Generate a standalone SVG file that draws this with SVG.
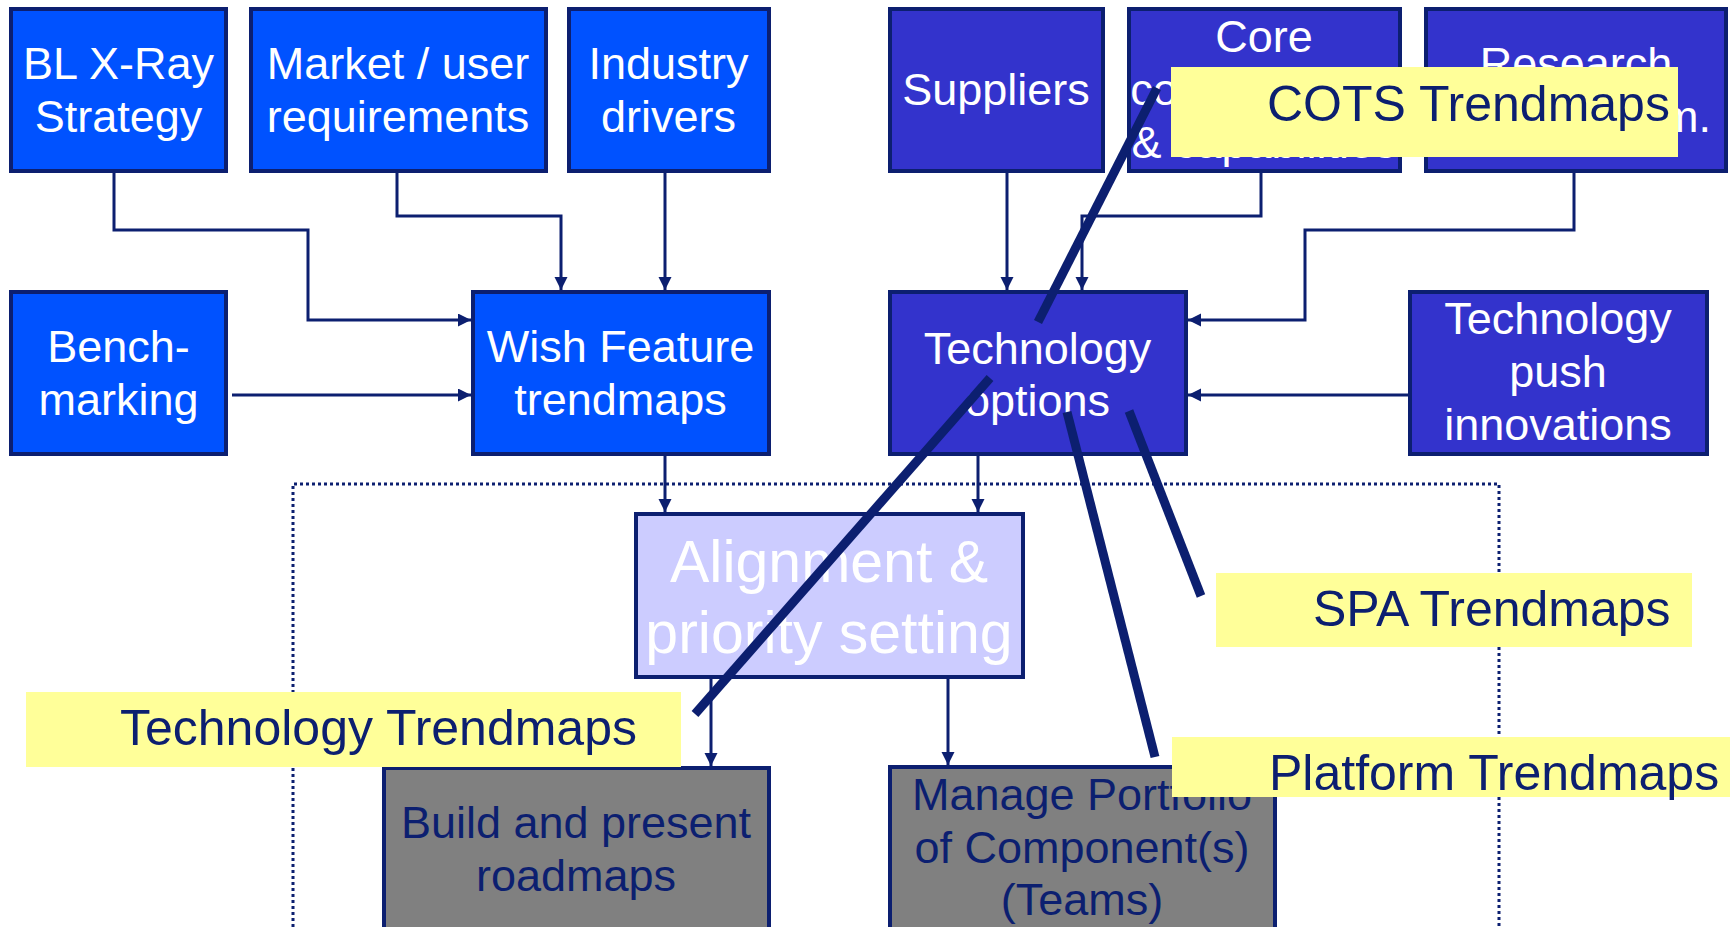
<svg xmlns="http://www.w3.org/2000/svg" width="1730" height="927" viewBox="0 0 1730 927">
<style>
.b1{fill:#0052ff;stroke:#0c1f70;stroke-width:4}
.b2{fill:#3333cc;stroke:#0c1f70;stroke-width:4}
.b3{fill:#ccccff;stroke:#0c1f70;stroke-width:4}
.b4{fill:#808080;stroke:#0c1f70;stroke-width:4}
.t{font-family:"Liberation Sans",Arial,sans-serif;font-size:45px;fill:#ffffff;text-anchor:middle}
.td{font-family:"Liberation Sans",Arial,sans-serif;font-size:45px;fill:#0c1f70;text-anchor:middle}
.ta{font-family:"Liberation Sans",Arial,sans-serif;font-size:59px;fill:#ffffff;text-anchor:middle}
.y{fill:#ffff99}
.yt{font-family:"Liberation Sans",Arial,sans-serif;font-size:50px;fill:#0c1f70}
.c{fill:none;stroke:#0c1f70;stroke-width:3;marker-end:url(#ah)}
.thick{stroke:#0c1f70;stroke-width:9;fill:none}
.dot{fill:none;stroke:#0c1f70;stroke-width:3;stroke-dasharray:3 3}
</style>
<defs>
<marker id="ah" markerUnits="userSpaceOnUse" markerWidth="14" markerHeight="14" refX="13" refY="6.5" orient="auto">
<path d="M0,0 L13,6.5 L0,13 z" fill="#0c1f70"/>
</marker>
</defs>
<rect width="1730" height="927" fill="#ffffff"/>
<path class="dot" d="M293 927 V484 H1499 V927"/>

<g id="bl-xray"><rect class="b1" x="11" y="9" width="215" height="162"/><text class="t" x="118.5" y="79">BL X-Ray</text><text class="t" x="118.5" y="132">Strategy</text></g>
<g id="market"><rect class="b1" x="251" y="9" width="295" height="162"/><text class="t" x="398" y="79">Market / user</text><text class="t" x="398" y="132">requirements</text></g>
<g id="industry"><rect class="b1" x="569" y="9" width="200" height="162"/><text class="t" x="668.5" y="79">Industry</text><text class="t" x="668.5" y="132">drivers</text></g>
<g id="bench"><rect class="b1" x="11" y="292" width="215" height="162"/><text class="t" x="118.5" y="362">Bench-</text><text class="t" x="118.5" y="415">marking</text></g>
<g id="wish"><rect class="b1" x="473" y="292" width="296" height="162"/><text class="t" x="620.5" y="362">Wish Feature</text><text class="t" x="620.5" y="415">trendmaps</text></g>

<g id="suppliers"><rect class="b2" x="890" y="9" width="213" height="162"/><text class="t" x="996" y="105">Suppliers</text></g>
<g id="core"><rect class="b2" x="1129" y="9" width="271" height="162"/><text class="t" x="1264" y="52">Core</text><text class="t" x="1264" y="105">competences</text><text class="t" x="1264" y="158">&amp; capabilities</text></g>
<g id="research"><rect class="b2" x="1426" y="9" width="300" height="162"/><text class="t" x="1576" y="79">Research</text><text class="t" x="1711" y="132" style="text-anchor:end">Univ. Program.</text></g>
<g id="tech-options"><rect class="b2" x="890" y="292" width="296" height="162"/><text class="t" x="1037.5" y="364">Technology</text><text class="t" x="1037.5" y="416">options</text></g>
<g id="tech-push"><rect class="b2" x="1410" y="292" width="297" height="162"/><text class="t" x="1558" y="334">Technology</text><text class="t" x="1558" y="387">push</text><text class="t" x="1558" y="440">innovations</text></g>

<g id="alignment"><rect class="b3" x="636" y="514" width="387" height="163"/><text class="ta" x="829" y="582">Alignment &amp;</text><text class="ta" x="829" y="653">priority setting</text></g>
<g id="build"><rect class="b4" x="384" y="768" width="385" height="170"/><text class="td" x="576" y="838">Build and present</text><text class="td" x="576" y="891">roadmaps</text></g>
<g id="manage"><rect class="b4" x="890" y="767" width="385" height="170"/><text class="td" x="1082" y="810">Manage Portfolio</text><text class="td" x="1082" y="863">of Component(s)</text><text class="td" x="1082" y="915">(Teams)</text></g>

<g id="connectors">
<path class="c" d="M114 173 V230 H308 V320 H471"/>
<path class="c" d="M397 173 V216 H561 V290"/>
<path class="c" d="M665 173 V290"/>
<path class="c" d="M232 395 H471"/>
<path class="c" d="M665 456 V512"/>
<path class="c" d="M1007 173 V290"/>
<path class="c" d="M1261 173 V216 H1082 V290"/>
<path class="c" d="M1574 173 V230 H1305 V320 H1188"/>
<path class="c" d="M1408 395 H1188"/>
<path class="c" d="M978 456 V512"/>
<path class="c" d="M711 679 V766"/>
<path class="c" d="M948 679 V765"/>
</g>

<g id="pointer-lines">
<line class="thick" x1="1157" y1="88" x2="1038" y2="322"/>
<line class="thick" x1="990" y1="378" x2="695" y2="714"/>
<line class="thick" x1="1067" y1="412" x2="1155" y2="757"/>
<line class="thick" x1="1129" y1="411" x2="1201" y2="596"/>
</g>

<g id="cots-label"><rect class="y" x="1171" y="67" width="507" height="90"/><text class="yt" x="1267" y="121">COTS Trendmaps</text></g>
<g id="spa-label"><rect class="y" x="1216" y="573" width="476" height="74"/><text class="yt" x="1313" y="626">SPA Trendmaps</text></g>
<g id="platform-label"><rect class="y" x="1172" y="737" width="558" height="60"/><text class="yt" x="1269" y="790">Platform Trendmaps</text></g>
<g id="technology-label"><rect class="y" x="26" y="692" width="655" height="75"/><text class="yt" x="120" y="745">Technology Trendmaps</text></g>
</svg>
